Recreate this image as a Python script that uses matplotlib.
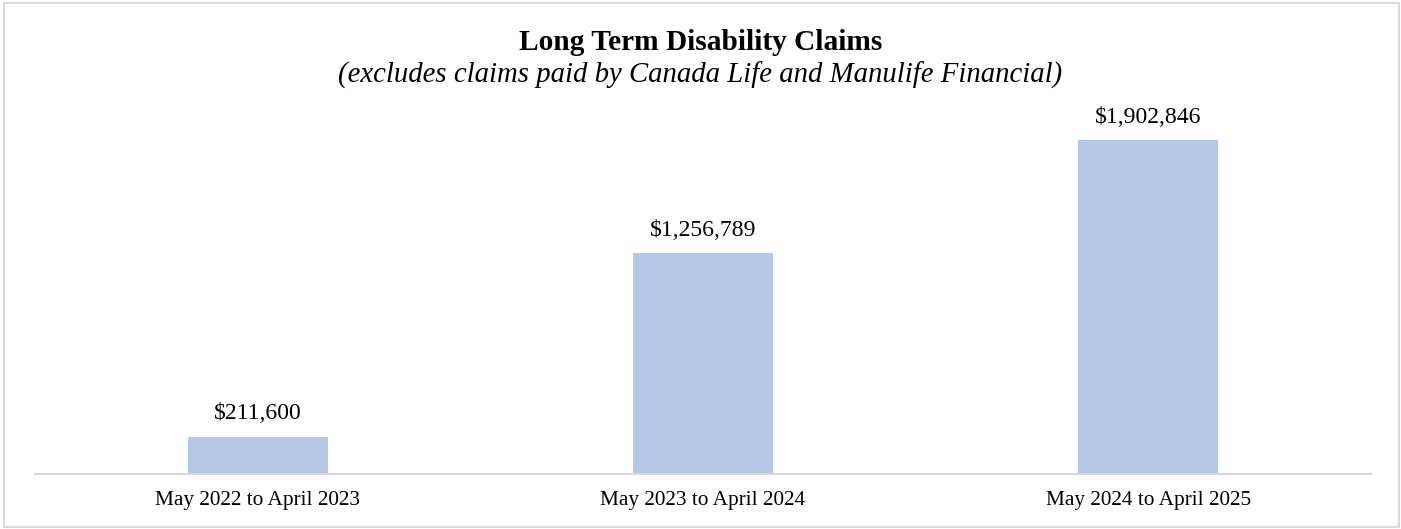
import matplotlib.pyplot as plt
from matplotlib.patches import Rectangle

periods = ["May 2022 to April 2023", "May 2023 to April 2024", "May 2024 to April 2025"]
claims = [211600, 1256789, 1902846]

plt.rcParams['font.family'] = ['Liberation Serif', 'DejaVu Serif']

W, H = 1401, 529
fig = plt.figure(figsize=(W / 100, H / 100), dpi=100)

# plot area in pixel terms: baseline at y=474, spans x 35..1371
left, right = 35, 1371
bottom, top = 474, 123
ax = fig.add_axes([left / W, 1 - bottom / H, (right - left) / W, (bottom - top) / H])

x = range(len(periods))
bars = ax.bar(x, claims, width=0.314, color='#B4C7E7', zorder=2)
ax.set_xlim(-0.5, len(periods) - 0.5)
ax.set_ylim(0, 2000000)

for rect, val in zip(bars, claims):
    ax.annotate(f"${val:,}", (rect.get_x() + rect.get_width() / 2, val),
                xytext=(0, 9), textcoords='offset points',
                ha='center', va='bottom', fontsize=17.1)

ax.set_xticks(list(x))
ax.set_xticklabels(periods, fontsize=15.3)
ax.tick_params(axis='x', length=0, pad=12.5)
ax.set_yticks([])
for side in ['left', 'right', 'top']:
    ax.spines[side].set_visible(False)
ax.spines['bottom'].set_color('#d9d9d9')
ax.spines['bottom'].set_linewidth(1.5)

fig.text(0.5, 1 - 42 / H, "Long Term Disability Claims", ha='center', va='center',
         fontsize=21.2, fontweight='bold')
fig.text(0.5, 1 - 75 / H, "(excludes claims paid by Canada Life and Manulife Financial)",
         ha='center', va='center', fontsize=20.7, style='italic')

# light grey frame around the whole chart
fig.patches.append(Rectangle((4 / W, 2 / H), 1395 / W, 524 / H, transform=fig.transFigure,
                             fill=False, edgecolor='#d9d9d9', linewidth=1.5))

fig.savefig('out.png', dpi=100)
